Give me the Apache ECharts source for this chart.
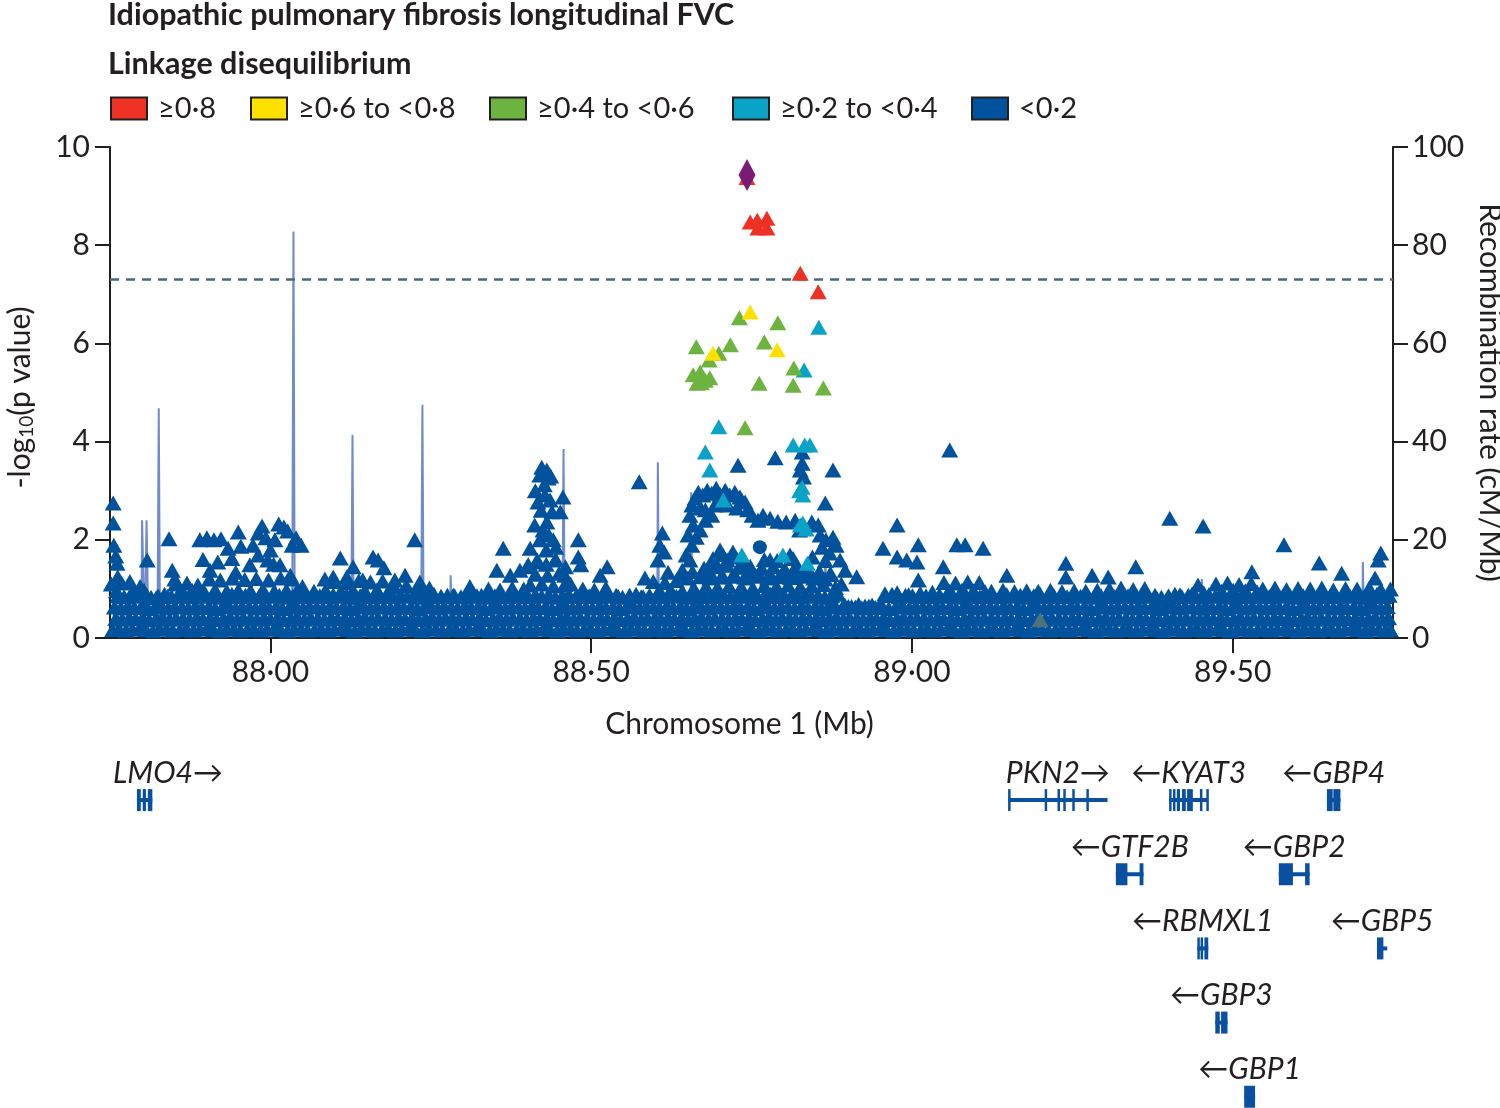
<!DOCTYPE html>
<html><head><meta charset="utf-8">
<script src="https://cdn.jsdelivr.net/npm/echarts@6/dist/echarts.min.js"></script>
<style>html,body{margin:0;padding:0;background:#fff}#chart{width:1500px;height:1108px}</style>
</head><body><div id="chart"></div>
<script>
// ---------- DATA (position in Mb, -log10 p) ----------
const chartTitle = 'Idiopathic pulmonary fibrosis longitudinal FVC';
const legendTitle = 'Linkage disequilibrium';
const legendLabels = ['≥0·8', '≥0·6 to <0·8', '≥0·4 to <0·6', '≥0·2 to <0·4', '<0·2'];
const xTickValues = [88.0, 88.5, 89.0, 89.5];
const genomeWideLine = 7.3;

const leadSnp = [[88.743, 9.43]];
const ldRed = [[88.743,9.38],[88.748,8.47],[88.759,8.51],[88.774,8.55],[88.760,8.35],[88.774,8.35],[88.826,7.43],[88.854,7.05]];
const ldYellow = [[88.748,6.64],[88.690,5.80],[88.790,5.87]];
const ldGreen = [[88.731,6.52],[88.791,6.42],[88.664,5.93],[88.717,5.97],[88.699,5.80],[88.684,5.66],[88.770,6.03],[88.816,5.50],[88.815,5.15],[88.762,5.19],[88.862,5.09],[88.659,5.36],[88.670,5.42],[88.678,5.25],[88.665,5.19],[88.685,5.30],[88.672,5.20],[88.740,4.28]];
const ldTeal = [[88.855,6.33],[88.832,5.46],[88.699,4.30],[88.678,3.79],[88.685,3.42],[88.706,2.81],[88.815,3.93],[88.833,3.93],[88.841,3.93],[88.829,3.07],[88.830,2.91],[88.830,2.34],[88.735,1.69],[88.799,1.69],[88.837,1.52],[88.826,2.30],[88.835,2.22],[88.825,3.00]];

// dense low-LD mass near the baseline (read as layers of overlapping SNPs)
const blueLayerA = [[87.754,.17],[87.764,.19],[87.775,.16],[87.785,.18],[87.796,.20],[87.806,.17],[87.817,.15],[87.827,.19],[87.838,.18],[87.848,.16],
[87.859,.17],[87.869,.19],[87.880,.16],[87.890,.18],[87.901,.20],[87.911,.17],[87.922,.15],[87.932,.19],[87.943,.18],[87.953,.16],
[87.964,.17],[87.974,.19],[87.985,.16],[87.995,.18],[88.006,.20],[88.016,.17],[88.027,.15],[88.037,.19],[88.048,.18],[88.058,.16],
[88.069,.17],[88.079,.19],[88.090,.16],[88.100,.18],[88.111,.20],[88.121,.17],[88.132,.15],[88.142,.19],[88.153,.18],[88.163,.16],
[88.174,.17],[88.184,.19],[88.195,.16],[88.205,.18],[88.216,.20],[88.226,.17],[88.237,.15],[88.247,.19],[88.258,.18],[88.268,.16],
[88.279,.17],[88.289,.19],[88.300,.16],[88.310,.18],[88.321,.20],[88.331,.17],[88.342,.15],[88.352,.19],[88.363,.18],[88.373,.16],
[88.384,.17],[88.394,.19],[88.405,.16],[88.415,.18],[88.426,.20],[88.436,.17],[88.447,.15],[88.457,.19],[88.468,.18],[88.478,.16],
[88.489,.17],[88.499,.19],[88.510,.16],[88.520,.18],[88.531,.20],[88.541,.17],[88.552,.15],[88.562,.19],[88.573,.18],[88.583,.16],
[88.594,.17],[88.604,.19],[88.615,.16],[88.625,.18],[88.636,.20],[88.646,.17],[88.657,.15],[88.667,.19],[88.678,.18],[88.688,.16],
[88.699,.17],[88.709,.19],[88.720,.16],[88.730,.18],[88.741,.20],[88.751,.17],[88.762,.15],[88.772,.19],[88.783,.18],[88.793,.16],
[88.804,.17],[88.814,.19],[88.825,.16],[88.835,.18],[88.846,.20],[88.856,.17],[88.867,.15],[88.877,.19],[88.888,.18],[88.898,.16],
[88.909,.17],[88.919,.19],[88.930,.16],[88.940,.18],[88.951,.20],[88.961,.17],[88.972,.15],[88.982,.19],[88.993,.18],[89.003,.16],
[89.014,.17],[89.024,.19],[89.035,.16],[89.045,.18],[89.056,.20],[89.066,.17],[89.077,.15],[89.087,.19],[89.098,.18],[89.108,.16],
[89.119,.17],[89.129,.19],[89.140,.16],[89.150,.18],[89.161,.20],[89.171,.17],[89.182,.15],[89.192,.19],[89.203,.18],[89.213,.16],
[89.224,.17],[89.234,.19],[89.245,.16],[89.255,.18],[89.266,.20],[89.276,.17],[89.287,.15],[89.297,.19],[89.308,.18],[89.318,.16],
[89.329,.17],[89.339,.19],[89.350,.16],[89.360,.18],[89.371,.20],[89.381,.17],[89.392,.15],[89.402,.19],[89.413,.18],[89.423,.16],
[89.434,.17],[89.444,.19],[89.455,.16],[89.465,.18],[89.476,.20],[89.486,.17],[89.497,.15],[89.507,.19],[89.518,.18],[89.528,.16],
[89.539,.17],[89.549,.19],[89.560,.16],[89.570,.18],[89.581,.20],[89.591,.17],[89.602,.15],[89.612,.19],[89.623,.18],[89.633,.16],
[89.644,.17],[89.654,.19],[89.665,.16],[89.675,.18],[89.686,.20],[89.696,.17],[89.707,.15],[89.717,.19],[89.728,.18],[89.738,.16],[89.746,.17]];
const blueLayerB = [[87.759,.40],[87.769,.38],[87.780,.42],[87.790,.39],[87.801,.41],[87.811,.37],[87.822,.40],[87.832,.43],[87.843,.38],[87.853,.41],
[87.864,.40],[87.874,.38],[87.885,.42],[87.895,.39],[87.906,.41],[87.916,.37],[87.927,.40],[87.937,.43],[87.948,.38],[87.958,.41],
[87.969,.40],[87.979,.38],[87.990,.42],[88.000,.39],[88.011,.41],[88.021,.37],[88.032,.40],[88.042,.43],[88.053,.38],[88.063,.41],
[88.074,.40],[88.084,.38],[88.095,.42],[88.105,.39],[88.116,.41],[88.126,.37],[88.137,.40],[88.147,.43],[88.158,.38],[88.168,.41],
[88.179,.40],[88.189,.38],[88.200,.42],[88.210,.39],[88.221,.41],[88.231,.37],[88.242,.40],[88.252,.43],[88.263,.38],[88.273,.41],
[88.284,.40],[88.294,.38],[88.305,.42],[88.315,.39],[88.326,.41],[88.336,.37],[88.347,.40],[88.357,.43],[88.368,.38],[88.378,.41],
[88.389,.40],[88.399,.38],[88.410,.42],[88.420,.39],[88.431,.41],[88.441,.37],[88.452,.40],[88.462,.43],[88.473,.38],[88.483,.41],
[88.494,.40],[88.504,.38],[88.515,.42],[88.525,.39],[88.536,.41],[88.546,.37],[88.557,.40],[88.567,.43],[88.578,.38],[88.588,.41],
[88.599,.40],[88.609,.38],[88.620,.42],[88.630,.39],[88.641,.41],[88.651,.37],[88.662,.40],[88.672,.43],[88.683,.38],[88.693,.41],
[88.704,.40],[88.714,.38],[88.725,.42],[88.735,.39],[88.746,.41],[88.756,.37],[88.767,.40],[88.777,.43],[88.788,.38],[88.798,.41],
[88.809,.40],[88.819,.38],[88.830,.42],[88.840,.39],[88.851,.41],[88.861,.37],[88.872,.40],[88.882,.43],[88.893,.38],[88.903,.41],
[88.914,.40],[88.924,.38],[88.935,.42],[88.945,.39],[88.956,.41],[88.966,.37],[88.977,.40],[88.987,.43],[88.998,.38],[89.008,.41],
[89.019,.40],[89.029,.38],[89.040,.42],[89.050,.39],[89.061,.41],[89.071,.37],[89.082,.40],[89.092,.43],[89.103,.38],[89.113,.41],
[89.124,.40],[89.134,.38],[89.145,.42],[89.155,.39],[89.166,.41],[89.176,.37],[89.187,.40],[89.197,.43],[89.208,.38],[89.218,.41],
[89.229,.40],[89.239,.38],[89.250,.42],[89.260,.39],[89.271,.41],[89.281,.37],[89.292,.40],[89.302,.43],[89.313,.38],[89.323,.41],
[89.334,.40],[89.344,.38],[89.355,.42],[89.365,.39],[89.376,.41],[89.386,.37],[89.397,.40],[89.407,.43],[89.418,.38],[89.428,.41],
[89.439,.40],[89.449,.38],[89.460,.42],[89.470,.39],[89.481,.41],[89.491,.37],[89.502,.40],[89.512,.43],[89.523,.38],[89.533,.41],
[89.544,.40],[89.554,.38],[89.565,.42],[89.575,.39],[89.586,.41],[89.596,.37],[89.607,.40],[89.617,.43],[89.628,.38],[89.638,.41],
[89.649,.40],[89.659,.38],[89.670,.42],[89.680,.39],[89.691,.41],[89.701,.37],[89.712,.40],[89.722,.43],[89.733,.38],[89.743,.41]];
const blueLayerC = [[87.757,.63],[87.767,.61],[87.778,.65],[87.788,.62],[87.799,.64],[87.809,.60],[87.820,.63],[87.830,.66],[87.841,.61],[87.851,.64],
[87.862,.63],[87.872,.61],[87.883,.65],[87.893,.62],[87.904,.64],[87.914,.60],[87.925,.63],[87.935,.66],[87.946,.61],[87.956,.64],
[87.967,.63],[87.977,.61],[87.988,.65],[87.998,.62],[88.009,.64],[88.019,.60],[88.030,.63],[88.040,.66],[88.051,.61],[88.061,.64],
[88.072,.63],[88.082,.61],[88.093,.65],[88.103,.62],[88.114,.64],[88.124,.60],[88.135,.63],[88.145,.66],[88.156,.61],[88.166,.64],
[88.177,.63],[88.187,.61],[88.198,.65],[88.208,.62],[88.219,.64],[88.229,.60],[88.240,.63],[88.250,.66],[88.261,.61],[88.271,.64],
[88.282,.63],[88.292,.61],[88.303,.65],[88.313,.62],[88.324,.64],[88.334,.60],[88.345,.63],[88.355,.66],[88.366,.61],[88.376,.64],
[88.387,.63],[88.397,.61],[88.408,.65],[88.418,.62],[88.429,.64],[88.439,.60],[88.450,.63],[88.460,.66],[88.471,.61],[88.481,.64],
[88.492,.63],[88.502,.61],[88.513,.65],[88.523,.62],[88.534,.64],[88.544,.60],[88.555,.63],[88.565,.66],[88.576,.61],[88.586,.64],
[88.597,.63],[88.607,.61],[88.618,.65],[88.628,.62],[88.639,.64],[88.649,.60],[88.660,.63],[88.670,.66],[88.681,.61],[88.691,.64],
[88.702,.63],[88.712,.61],[88.723,.65],[88.733,.62],[88.744,.64],[88.754,.60],[88.765,.63],[88.775,.66],[88.786,.61],[88.796,.64],
[88.807,.63],[88.817,.61],[88.828,.65],[88.838,.62],[88.849,.64],[88.859,.60],[88.870,.63],[88.880,.66],[88.891,.61],[88.901,.64],
[88.912,.63],[88.922,.61],[88.933,.65],[88.943,.62],[88.954,.64],[88.964,.60],[88.975,.63],[88.985,.66],[88.996,.61],[89.006,.64],
[89.017,.63],[89.027,.61],[89.038,.65],[89.048,.62],[89.059,.64],[89.069,.60],[89.080,.63],[89.090,.66],[89.101,.61],[89.111,.64],
[89.122,.63],[89.132,.61],[89.143,.65],[89.153,.62],[89.164,.64],[89.174,.60],[89.185,.63],[89.195,.66],[89.206,.61],[89.216,.64],
[89.227,.63],[89.237,.61],[89.248,.65],[89.258,.62],[89.269,.64],[89.279,.60],[89.290,.63],[89.300,.66],[89.311,.61],[89.321,.64],
[89.332,.63],[89.342,.61],[89.353,.65],[89.363,.62],[89.374,.64],[89.384,.60],[89.395,.63],[89.405,.66],[89.416,.61],[89.426,.64],
[89.437,.63],[89.447,.61],[89.458,.65],[89.468,.62],[89.479,.64],[89.489,.60],[89.500,.63],[89.510,.66],[89.521,.61],[89.531,.64],
[89.542,.63],[89.552,.61],[89.563,.65],[89.573,.62],[89.584,.64],[89.594,.60],[89.605,.63],[89.615,.66],[89.626,.61],[89.636,.64],
[89.647,.63],[89.657,.61],[89.668,.65],[89.678,.62],[89.689,.64],[89.699,.60],[89.710,.63],[89.720,.66],[89.731,.61],[89.741,.64]];
const blueLayerD = [[87.762,.86],[87.772,.84],[87.783,.88],[87.793,.85],[87.804,.87],[87.814,.83],[87.825,.86],[87.835,.89],[87.846,.84],[87.856,.87],
[87.867,.86],[87.877,.84],[87.888,.88],[87.898,.85],[87.909,.87],[87.919,.83],[87.930,.86],[87.940,.89],[87.951,.84],[87.961,.87],
[87.972,.86],[87.982,.84],[87.993,.88],[88.003,.85],[88.014,.87],[88.024,.83],[88.035,.86],[88.045,.89],[88.056,.84],[88.066,.87],
[88.077,.86],[88.087,.84],[88.098,.88],[88.108,.85],[88.119,.87],[88.129,.83],[88.140,.86],[88.150,.89],[88.161,.84],[88.171,.87],
[88.182,.86],[88.192,.84],[88.203,.88],[88.213,.85],[88.224,.87],[88.234,.83],[88.245,.86],[88.255,.89],[88.266,.84],[88.276,.87],
[88.287,.86],[88.297,.84],[88.308,.88],[88.318,.85],[88.329,.87],[88.339,.83],[88.350,.86],[88.360,.89],[88.371,.84],[88.381,.87],
[88.392,.86],[88.402,.84],[88.413,.88],[88.423,.85],[88.434,.87],[88.444,.83],[88.455,.86],[88.465,.89],[88.476,.84],[88.486,.87],
[88.497,.86],[88.507,.84],[88.518,.88],[88.528,.85],[88.539,.87],[88.549,.83],[88.560,.86],[88.570,.89],[88.581,.84],[88.591,.87],
[88.602,.86],[88.612,.84],[88.623,.88],[88.633,.85],[88.644,.87],[88.654,.83],[88.665,.86],[88.675,.89],[88.686,.84],[88.696,.87],
[88.707,.86],[88.717,.84],[88.728,.88],[88.738,.85],[88.749,.87],[88.759,.83],[88.770,.86],[88.780,.89],[88.791,.84],[88.801,.87],
[88.812,.86],[88.822,.84],[88.833,.88],[88.843,.85],[88.854,.87],[88.864,.83],[88.875,.86],[88.885,.89],[88.896,.66],[88.906,.64],
[88.917,.68],[88.927,.65],[88.938,.67],[88.948,.63],[88.959,.86],[88.969,.89],[88.980,.84],[88.990,.87],[89.001,.86],[89.011,.84],
[89.022,.86],[89.032,.84],[89.043,.88],[89.053,.85],[89.064,.87],[89.074,.83],[89.085,.86],[89.095,.89],[89.106,.84],[89.116,.87],
[89.127,.86],[89.137,.84],[89.148,.88],[89.158,.85],[89.169,.87],[89.179,.83],[89.190,.86],[89.200,.89],[89.211,.84],[89.221,.87],
[89.232,.86],[89.242,.84],[89.253,.88],[89.263,.85],[89.274,.87],[89.284,.83],[89.295,.86],[89.305,.89],[89.316,.84],[89.326,.87],
[89.337,.86],[89.347,.84],[89.358,.88],[89.368,.85],[89.379,.87],[89.389,.83],[89.400,.86],[89.410,.89],[89.421,.84],[89.431,.87],
[89.442,.86],[89.452,.84],[89.463,.88],[89.473,.85],[89.484,.87],[89.494,.83],[89.505,.86],[89.515,.89],[89.526,.84],[89.536,.87],
[89.547,.86],[89.557,.84],[89.568,.88],[89.578,.85],[89.589,.87],[89.599,.83],[89.610,.86],[89.620,.89],[89.631,.84],[89.641,.87],
[89.652,.86],[89.662,.84],[89.673,.88],[89.683,.85],[89.694,.87],[89.704,.83],[89.715,.86],[89.725,.89],[89.736,.84],[89.744,.87]];
const blueTop = [[87.752,1.10],[87.768,1.12],[87.785,.95],[87.803,.97],[87.822,.82],[87.840,.85],[87.852,1.10],[87.870,1.12],[87.887,1.08],[87.905,1.20],[87.922,1.18],[87.941,1.22],[87.960,1.19],[87.978,1.21],[87.997,1.18],[88.016,1.22],[88.034,1.20],[88.050,1.05],[88.068,.95],[88.086,.97],[88.101,1.15],[88.120,1.13],[88.138,1.17],[88.156,1.14],[88.175,1.16],[88.193,1.05],[88.212,1.07],[88.230,1.04],[88.248,1.02],[88.266,.85],[88.285,.87],[88.303,.84],[88.322,.86],[88.340,1.00],[88.358,.98],[88.377,1.02],[88.395,1.00],[88.413,1.30],[88.432,1.28],[88.450,1.32],[88.468,1.10],[88.487,1.00],[88.505,.98],[88.523,1.02],[88.542,.85],[88.560,.87],[88.578,.84],[88.597,1.15],[88.615,1.13],[88.633,1.17],[88.651,1.22],[88.670,1.25],[88.688,1.28],[88.706,1.24],[88.725,1.26],[88.743,1.22],[88.761,1.30],[88.780,1.28],[88.798,1.32],[88.816,1.29],[88.835,1.31],[88.853,1.28],[88.872,1.30],[88.890,1.10],[88.958,.90],[88.977,.92],[88.995,.88],[89.013,.91],[89.032,.93],[89.050,1.13],[89.068,1.12],[89.087,1.14],[89.105,1.13],[89.124,.95],[89.142,.97],[89.160,.94],[89.179,.96],[89.197,.95],[89.216,.97],[89.234,.94],[89.253,.96],[89.271,.95],[89.289,.97],[89.308,1.00],[89.326,1.02],[89.345,.99],[89.363,1.01],[89.382,.80],[89.400,.82],[89.418,.88],[89.437,.90],[89.455,.92],[89.474,1.10],[89.492,1.12],[89.510,1.09],[89.529,1.11],[89.547,1.00],[89.566,1.02],[89.584,.99],[89.602,1.01],[89.621,1.00],[89.639,1.02],[89.657,.98],[89.676,1.01],[89.694,1.00],[89.713,1.02],[89.731,.99],[89.746,1.00]];
const blueFill = [[87.760,.96],[87.860,.95],[87.878,.97],[87.896,.96],[87.914,.98],[87.932,.95],[87.950,.97],[87.969,.96],[87.988,.98],[88.006,.95],[88.025,.97],[88.042,.96],[88.110,.95],[88.129,.97],[88.147,.96],[88.166,.98],[88.184,.95],[88.405,1.08],[88.423,1.10],[88.441,1.06],[88.459,1.09],[88.606,.96],[88.624,.98],[88.642,.95],[88.660,1.02],[88.679,1.05],[88.697,1.03],[88.715,1.06],[88.734,1.04],[88.752,1.02],[88.770,1.07],[88.789,1.05],[88.807,1.08],[88.826,1.04],[88.844,1.06],[88.862,1.09],[88.881,1.03],[89.059,.95],[89.078,.97],[89.096,.96],[89.114,.94],[89.483,.95],[89.501,.97],[89.520,.96],[89.538,.94],
  [88.640,1.30],[88.658,1.35],[88.676,1.42],[88.694,1.45],[88.712,1.48],[88.730,1.44],[88.748,1.46],[88.766,1.42],[88.784,1.45],[88.802,1.40],[88.820,1.43],[88.838,1.38],[88.856,1.35],[88.874,1.30],
  [88.685,1.22],[88.703,1.25],[88.721,1.28],[88.739,1.24],[88.757,1.26],[88.775,1.22],[88.793,1.25],[88.811,1.23],[88.829,1.26],[88.847,1.22],[88.865,1.20],
  [88.690,1.62],[88.705,1.70],[88.725,1.65],[88.770,1.60],[88.790,1.58],[88.815,1.62],[88.845,1.65],[88.865,1.58],
  [88.400,1.45],[88.415,1.55],[88.430,1.50],[88.445,1.60],[88.460,1.45]];
const blueUpper = [[87.755,2.75],[87.755,2.34],[87.756,1.89],[87.759,1.67],[87.761,1.52],[87.762,1.25],[87.781,1.15],[87.808,1.59],[87.797,1.05],[87.842,2.02],[87.847,1.38],[87.851,1.20],
  [87.890,2.00],[87.901,2.04],[87.912,2.00],[87.923,2.02],[87.934,1.83],[87.906,1.38],[87.950,2.16],[87.954,1.87],[87.946,1.34],[87.973,1.89],[87.981,2.14],[87.987,2.28],[87.993,2.04],[88.000,1.79],[88.007,2.00],[88.013,2.32],[88.021,2.26],[88.027,2.18],[88.034,1.89],[88.040,2.04],[88.048,1.89],[87.981,1.69],[87.996,1.59],[87.968,1.49],[88.015,1.49],[88.031,1.28],[87.918,1.55],[87.895,1.60],[87.940,1.62],[88.005,1.50],
  [88.085,1.20],[88.098,1.24],[88.109,1.63],[88.119,1.24],[88.129,1.45],[88.160,1.65],[88.168,1.59],[88.177,1.43],[88.144,1.18],[88.194,1.18],[88.225,2.00],[88.210,1.28],[88.233,1.14],[88.311,1.05],[88.353,1.38],[88.363,1.83],[88.374,1.28],[88.389,1.38],
  [88.423,3.48],[88.431,3.42],[88.420,3.32],[88.433,3.26],[88.427,3.12],[88.428,2.91],[88.436,2.81],[88.417,2.77],[88.439,2.57],[88.431,2.36],[88.425,2.20],[88.420,2.00],[88.441,2.00],[88.430,1.79],[88.416,1.59],[88.444,1.59],[88.405,1.83],[88.402,1.49],[88.452,2.57],[88.456,2.87],[88.480,2.00],[88.480,1.65],[88.484,1.49],[88.459,1.28],[88.413,3.00],[88.437,3.30],[88.422,2.60],[88.434,2.10],[88.412,2.30],[88.445,1.85],
  [88.525,1.45],[88.514,1.28],[88.575,3.18],[88.611,2.14],[88.607,1.89],[88.614,1.75],[88.604,1.59],[88.620,1.34],[88.584,1.22],[88.642,1.38],[88.654,1.59],
  [88.657,2.71],[88.662,2.85],[88.667,2.97],[88.674,2.91],[88.681,3.01],[88.688,2.95],[88.695,3.05],[88.701,2.93],[88.709,3.01],[88.716,2.91],[88.724,2.97],[88.732,2.87],[88.740,2.77],[88.744,2.61],[88.654,2.50],[88.659,2.30],[88.651,2.10],[88.657,1.89],[88.648,1.69],[88.670,2.65],[88.678,2.61],[88.693,2.71],[88.713,2.71],[88.727,2.65],[88.678,2.40],[88.688,2.50],[88.670,2.20],[88.751,2.50],[88.760,2.40],[88.768,2.50],[88.779,2.44],[88.791,2.38],[88.804,2.36],[88.818,2.40],[88.844,2.36],[88.854,2.30],[88.857,2.10],[88.866,2.00],[88.825,2.20],[88.700,2.75],[88.735,2.80],[88.664,2.05],
  [88.729,3.52],[88.787,3.67],[88.829,3.79],[88.829,3.56],[88.826,3.42],[88.831,3.28],[88.877,3.42],[88.865,2.75],
  [88.701,1.79],[88.712,1.59],[88.721,1.75],[88.693,1.55],[88.682,1.34],[88.740,1.49],[88.751,1.38],[88.779,1.59],[88.810,1.69],[88.820,1.49],[88.877,2.05],[88.882,1.89],[88.872,1.73],[88.860,1.85],[88.888,1.59],[88.896,1.38],[88.914,1.25],
  [88.977,2.30],[88.955,1.83],[88.977,1.65],[88.992,1.59],[89.008,1.55],[89.010,1.90],[89.010,1.18],[89.059,3.83],[89.070,1.90],[89.083,1.90],[89.111,1.83],[89.049,1.45],
  [89.148,1.28],[89.240,1.52],[89.240,1.24],[89.281,1.28],[89.306,1.24],[89.349,1.45],[89.402,2.44],[89.454,2.28],[89.446,1.08],[89.530,1.35],[89.580,1.90],[89.635,1.53],[89.670,1.32],[89.731,1.73],[89.727,1.59],[89.722,1.22]];
const blueCircle = [[88.763,1.85]];
const ldMissing = [[89.200,0.37]];

// recombination rate (cM/Mb)
const recombRate = [[87.75,0.6],[87.790,0.8],[87.799,0.9],[87.800,24],[87.803,24],[87.804,0.8],[87.806,0.9],[87.807,24],[87.809,24],[87.810,0.8],[87.824,0.9],[87.826,46.8],[87.828,0.9],[87.95,0.7],[88.034,0.9],[88.036,82.8],[88.038,0.9],[88.126,0.8],[88.128,41.4],[88.130,0.8],[88.235,0.8],[88.237,47.5],[88.239,0.8],[88.280,0.8],[88.281,12.8],[88.283,0.8],[88.455,0.8],[88.457,38.5],[88.459,0.8],[88.603,0.8],[88.604,35.8],[88.606,0.8],[88.655,0.8],[88.656,29.7],[88.658,0.8],[88.864,0.8],[88.865,21],[88.867,0.8],[89.0,0.6],[89.2,0.9],[89.451,0.8],[89.452,12],[89.454,0.8],[89.702,0.8],[89.703,15.5],[89.705,0.8],[89.75,0.6]];

// genes
const geneNames = ['LMO4','PKN2','KYAT3','GBP4','GTF2B','GBP2','RBMXL1','GBP5','GBP3','GBP1'];
const geneStart = [87.792,89.150,89.401,89.647,89.318,89.572,89.445,89.725,89.473,89.518];
const geneEnd = [87.816,89.305,89.462,89.668,89.361,89.620,89.462,89.741,89.492,89.535];
const geneStrand = ['+','+','-','-','-','-','-','-','-','-'];
const geneRow = [0,0,0,0,1,1,2,2,3,4];
const geneExons = [
  [[87.792,87.798],[87.801,87.806],[87.809,87.816]],
  [[89.150,89.152],[89.207,89.209],[89.227,89.229],[89.236,89.238],[89.250,89.252],[89.272,89.274]],
  [[89.401,89.404],[89.407,89.410],[89.413,89.418],[89.421,89.427],[89.429,89.438],[89.449,89.451],[89.459,89.462]],
  [[89.647,89.656],[89.657,89.668]],
  [[89.318,89.336],[89.355,89.361]],
  [[89.572,89.594],[89.613,89.620]],
  [[89.445,89.448],[89.450,89.454],[89.456,89.462]],
  [[89.725,89.735]],
  [[89.473,89.480],[89.482,89.492]],
  [[89.518,89.535]]
];

// ---------- STYLE ----------
const FONT = 'Lato, "Open Sans", sans-serif';
const INK = '#231f20';
const C = {red:'#ee3124', yellow:'#ffe100', green:'#6cb33f', teal:'#0aa2c7', blue:'#00529c', purple:'#7a1c74', recomb:'#6f8bcb', dash:'#4b6a79', gene:'#0a50a0', gray:'#50707a'};
const legendLeft = [110, 250, 489, 732, 971];
const GRID = {left:110, top:147, width:1283, height:491};
const TRI = [17, 15];

const measureCtx = document.createElement('canvas').getContext('2d');
function textWidth(t, font){ measureCtx.font = font; return measureCtx.measureText(t).width; }

const blueAll = [].concat(blueLayerA, blueLayerB, blueLayerC, blueLayerD, blueTop, blueFill, blueUpper);
const geneData = geneNames.map((n, i) => [geneStart[i], geneEnd[i], geneRow[i], i]);

function scatter(name, data, color, z, extra) {
  return Object.assign({
    name: name, type: 'scatter', xAxisIndex: 0, yAxisIndex: 0, data: data,
    symbol: 'triangle', symbolSize: TRI, itemStyle: {color: color, opacity: 1},
    z: z, silent: true, emphasis: {disabled: true}, large: false
  }, extra || {});
}

const chart = echarts.init(document.getElementById('chart'), null, {renderer: 'canvas'});
const option = {
  animation: false,
  backgroundColor: '#fff',
  textStyle: {fontFamily: FONT, color: INK},
  title: [
    {text: chartTitle, left: 108, top: 0, padding: 0, textStyle: {fontFamily: FONT, fontSize: 30.5, fontWeight: 'bold', color: INK}},
    {text: legendTitle, left: 108, top: 49, padding: 0, textStyle: {fontFamily: FONT, fontSize: 30.5, fontWeight: 'bold', color: INK}}
  ],
  legend: legendLabels.map((n, i) => ({
    data: [n], left: legendLeft[i], top: 94, padding: 0, itemWidth: 36, itemHeight: 22, icon: 'rect',
    selectedMode: false,
    itemStyle: {borderColor: INK, borderWidth: 2},
    textStyle: {fontFamily: FONT, fontSize: 29, color: INK, padding: [0, 0, 0, 6]}
  })),
  grid: [
    {left: GRID.left, top: GRID.top, width: GRID.width, height: GRID.height, containLabel: false, outerBoundsMode: 'none'},
    {left: GRID.left, top: 763, width: GRID.width, height: 356, containLabel: false, outerBoundsMode: 'none'}
  ],
  xAxis: [
    {gridIndex: 0, type: 'value', min: 87.75, max: 89.75,
      axisLine: {show: true, lineStyle: {color: INK, width: 2}},
      axisTick: {show: true, customValues: xTickValues, length: 15, lineStyle: {color: INK, width: 2}},
      axisLabel: {customValues: xTickValues, fontFamily: FONT, fontSize: 30, color: INK, margin: 19,
        formatter: v => v.toFixed(2).replace('.', '·')},
      splitLine: {show: false},
      name: 'Chromosome 1 (Mb)', nameLocation: 'middle', nameGap: 71,
      nameTextStyle: {fontFamily: FONT, fontSize: 30, color: INK, padding: [0, 24, 0, 0]}},
    {gridIndex: 1, type: 'value', min: 87.75, max: 89.75, show: false}
  ],
  yAxis: [
    {gridIndex: 0, type: 'value', min: 0, max: 10, interval: 2, position: 'left',
      axisLine: {show: true, lineStyle: {color: INK, width: 2}},
      axisTick: {show: true, length: 15, lineStyle: {color: INK, width: 2}},
      axisLabel: {fontFamily: FONT, fontSize: 30, color: INK, margin: 20},
      splitLine: {show: false},
      name: '{a|-log}{s|10}{a|(p value)}', nameLocation: 'middle', nameRotate: 90, nameGap: 74,
      nameTextStyle: {fontFamily: FONT, fontSize: 30, color: INK, padding: [0, 10, 0, 0],
        rich: {a: {fontFamily: FONT, fontSize: 30, color: INK}, s: {fontFamily: FONT, fontSize: 19, color: INK, verticalAlign: 'bottom', padding: [12, 0, 0, 0]}}}},
    {gridIndex: 0, type: 'value', min: 0, max: 100, interval: 20, position: 'right',
      axisLine: {show: true, lineStyle: {color: INK, width: 2}},
      axisTick: {show: true, length: 15, lineStyle: {color: INK, width: 2}},
      axisLabel: {fontFamily: FONT, fontSize: 30, color: INK, margin: 19},
      splitLine: {show: false},
      name: 'Recombination rate (cM/Mb)', nameLocation: 'middle', nameRotate: -90, nameGap: 74,
      nameTextStyle: {fontFamily: FONT, fontSize: 30, color: INK}},
    {gridIndex: 1, type: 'value', min: -0.5, max: 4.3, inverse: true, show: false}
  ],
  series: [
    {name: 'recomb', type: 'line', xAxisIndex: 0, yAxisIndex: 1, data: recombRate, showSymbol: false, symbol: 'none',
      lineStyle: {color: C.recomb, width: 2}, z: 1, silent: true, emphasis: {disabled: true}},
    scatter(legendLabels[4], blueAll, C.blue, 2, {
      markLine: {silent: true, symbol: 'none', animation: false, label: {show: false},
        lineStyle: {type: [9, 7], color: C.dash, width: 2.5},
        data: [{yAxis: genomeWideLine}]}
    }),
    scatter('missing', ldMissing, C.gray, 2),
    scatter('circle', blueCircle, C.blue, 2, {symbol: 'circle', symbolSize: 14}),
    scatter(legendLabels[3], ldTeal, C.teal, 4),
    scatter(legendLabels[2], ldGreen, C.green, 5),
    scatter(legendLabels[1], ldYellow, C.yellow, 6),
    scatter(legendLabels[0], ldRed, C.red, 7),
    scatter('lead', leadSnp, C.purple, 8, {symbol: 'diamond', symbolSize: [17, 32]}),
    {type: 'custom', xAxisIndex: 1, yAxisIndex: 2, data: geneData, clip: false, silent: true, z: 2,
      encode: {x: [0, 1], y: 2},
      renderItem: function (params, api) {
        const i = api.value(3), row = api.value(2);
        const p0 = api.coord([api.value(0), row]);
        const p1 = api.coord([api.value(1), row]);
        const yc = p0[1];
        const kids = [{type: 'rect', shape: {x: p0[0], y: yc - 2, width: p1[0] - p0[0], height: 4}, style: {fill: C.gene}}];
        geneExons[i].forEach(e => {
          const a = api.coord([e[0], row])[0], b = api.coord([e[1], row])[0];
          kids.push({type: 'rect', shape: {x: a, y: yc - 11, width: Math.max(b - a, 2.5), height: 22}, style: {fill: C.gene}});
        });
        const label = geneStrand[i] === '+' ? geneNames[i] + '→' : '←' + geneNames[i];
        const font = 'italic 30px ' + FONT;
        const w = textWidth(label, font);
        let cx = (p0[0] + p1[0]) / 2;
        if (cx - w / 2 < GRID.left + 3) cx = GRID.left + 3 + w / 2;
        kids.push({type: 'text', x: cx, y: yc - 27, style: {text: label, font: font, fill: INK, align: 'center', verticalAlign: 'middle'}});
        return {type: 'group', children: kids};
      }}
  ]
};
chart.setOption(option);
</script>
</body></html>
